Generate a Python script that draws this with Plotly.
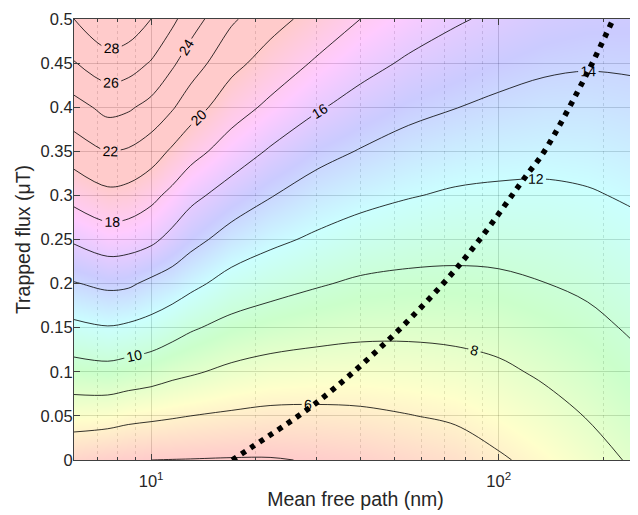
import math
import plotly.graph_objects as go

# ---- data ----
mfp_nm = [6, 7.5, 8.6, 10, 11.5, 13, 17, 22, 30, 40, 55, 75, 100, 135, 180, 250]
flux_uT = [0, 0.05, 0.1, 0.15, 0.2, 0.25, 0.3, 0.35, 0.4, 0.45, 0.5]

# z columns (one list per mean free path, bottom -> top in flux)
z_at_6 = [4.5, 6.86, 9.21, 11.57, 13.9, 16.24, 18.62, 20.95, 23.29, 25.89, 28.0]
z_at_7p5 = [4.2, 6.74, 9.4, 11.9, 14.38, 17.0, 19.5, 22.05, 24.58, 27.15, 29.7]
z_at_8p6 = [4.1, 6.46, 9.15, 11.7, 14.27, 16.86, 19.3, 21.8, 24.27, 26.86, 29.3]
z_at_10 = [4.0, 6.3, 8.87, 11.33, 13.6, 16.4, 18.5, 20.97, 23.4, 25.85, 28.0]
z_at_11p5 = [3.97, 6.14, 8.45, 10.74, 13.1, 15.44, 17.5, 19.7, 22.2, 24.3, 26.45]
z_at_13 = [3.95, 6.0, 8.2, 10.2, 12.47, 14.6, 16.5, 18.7, 20.9, 23.0, 24.9]
z_at_17 = [3.9, 5.77, 7.63, 9.43, 11.28, 13.24, 15.17, 17.08, 18.87, 20.57, 22.3]
z_at_22 = [3.9, 5.6, 7.3, 9.0, 10.7, 12.4, 14.1, 15.8, 17.6, 19.2, 20.7]
z_at_30 = [4.1, 5.6, 7.14, 8.66, 10.15, 11.7, 13.14, 14.6, 16.2, 17.75, 19.3]
z_at_40 = [4.3, 5.7, 7.08, 8.44, 9.74, 11.16, 12.56, 13.9, 15.28, 16.65, 18.0]
z_at_55 = [4.7, 5.95, 7.17, 8.38, 9.57, 10.82, 12.1, 13.29, 14.5, 15.73, 17.0]
z_at_75 = [5.1, 6.23, 7.36, 8.47, 9.55, 10.65, 11.78, 12.9, 14.04, 15.13, 16.2]
z_at_100 = [5.8, 6.76, 7.69, 8.66, 9.66, 10.67, 11.68, 12.67, 13.66, 14.66, 15.66]
z_at_135 = [6.5, 7.38, 8.24, 9.1, 9.97, 10.82, 11.68, 12.54, 13.41, 14.28, 15.15]
z_at_180 = [7.3, 8.07, 8.81, 9.56, 10.31, 11.08, 11.85, 12.61, 13.37, 14.14, 14.9]
z_at_250 = [8.29, 8.95, 9.6, 10.26, 10.91, 11.57, 12.22, 12.89, 13.55, 14.2, 14.86]

# dotted boundary curve
dot_x = [17.1, 19.5, 30.1, 47.5, 68.5, 87, 118.8, 135.8, 180.5, 213]
dot_y = [0.0, 0.0147, 0.0658, 0.1338, 0.198, 0.247, 0.320, 0.351, 0.440, 0.499]

x_tick_vals = [10, 100]
x_tick_text = ["10<sup>1</sup>", "10<sup>2</sup>"]
x_minor_vals = [6, 7, 8, 9, 20, 30, 40, 50, 60, 70, 80, 90, 200]
y_tick_vals = [0, 0.05, 0.1, 0.15, 0.2, 0.25, 0.3, 0.35, 0.4, 0.45, 0.5]
y_tick_text = ["0", "0.05", "0.1", "0.15", "0.2", "0.25", "0.3", "0.35", "0.4", "0.45", "0.5"]

columns = [z_at_6, z_at_7p5, z_at_8p6, z_at_10, z_at_11p5, z_at_13, z_at_17, z_at_22,
           z_at_30, z_at_40, z_at_55, z_at_75, z_at_100, z_at_135, z_at_180, z_at_250]
z_grid = [[col[i] for col in columns] for i in range(len(flux_uT))]

hsv_scale = [
    [0.0, "rgb(255,0,0)"],
    [1 / 6, "rgb(255,255,0)"],
    [2 / 6, "rgb(0,255,0)"],
    [3 / 6, "rgb(0,255,255)"],
    [4 / 6, "rgb(0,0,255)"],
    [5 / 6, "rgb(255,0,255)"],
    [1.0, "rgb(255,0,0)"],
]

FONT = "Liberation Sans, Arial, Helvetica, sans-serif"
AX = "#404040"

fig = go.Figure()
fig.add_trace(go.Heatmap(
    x=mfp_nm, y=flux_uT, z=z_grid, zsmooth="best",
    colorscale=hsv_scale, zmin=4, zmax=20, showscale=False,
    opacity=0.2, hoverinfo="skip",
))
fig.add_trace(go.Contour(
    x=mfp_nm, y=flux_uT, z=z_grid,
    contours=dict(start=4, end=28, size=2, coloring="none", showlabels=True,
                  labelfont=dict(family=FONT, size=14, color="black")),
    line=dict(color="black", width=0.8, smoothing=1.0),
    showscale=False, hoverinfo="skip",
))
fig.add_trace(go.Scatter(
    x=dot_x, y=dot_y, mode="lines", line_shape="spline",
    line=dict(color="black", width=5.5, dash="5px,6px"),
    hoverinfo="skip",
))

# the page body adds an 8px offset, so the figure is 8px smaller than the window
fig.update_layout(
    width=630, height=507,
    margin=dict(l=66, r=1, t=11, b=55, autoexpand=False),
    paper_bgcolor="white", plot_bgcolor="white",
    showlegend=False,
    font=dict(family=FONT, size=16.5, color="#262626"),
)
fig.update_xaxes(
    type="log", range=[math.log10(6), math.log10(250)],
    tickvals=x_tick_vals, ticktext=x_tick_text,
    ticks="inside", ticklen=6, tickcolor=AX,
    showline=True, linecolor=AX, linewidth=1, mirror="allticks",
    showgrid=True, gridcolor="rgba(0,0,0,0.16)", gridwidth=1,
    minor=dict(tickvals=x_minor_vals, ticks="inside", ticklen=3, tickcolor=AX,
               showgrid=True, griddash="3px,3px", gridcolor="rgba(0,0,0,0.13)", gridwidth=1),
    zeroline=False, automargin=False, ticklabelstandoff=6,
    title=dict(text="Mean free path (nm)", font=dict(size=19.5), standoff=3),
    tickfont=dict(size=16.5),
)
fig.update_yaxes(
    range=[0, 0.5],
    tickvals=y_tick_vals, ticktext=y_tick_text,
    ticks="inside", ticklen=6, tickcolor=AX,
    showline=True, linecolor=AX, linewidth=1, mirror="allticks",
    showgrid=True, gridcolor="rgba(0,0,0,0.16)", gridwidth=1,
    zeroline=False, automargin=False, ticklabelstandoff=-3,
    title=dict(text="Trapped flux (μT)", font=dict(size=19.5), standoff=4),
    tickfont=dict(size=16.5),
)

fig.write_html("out.html")
